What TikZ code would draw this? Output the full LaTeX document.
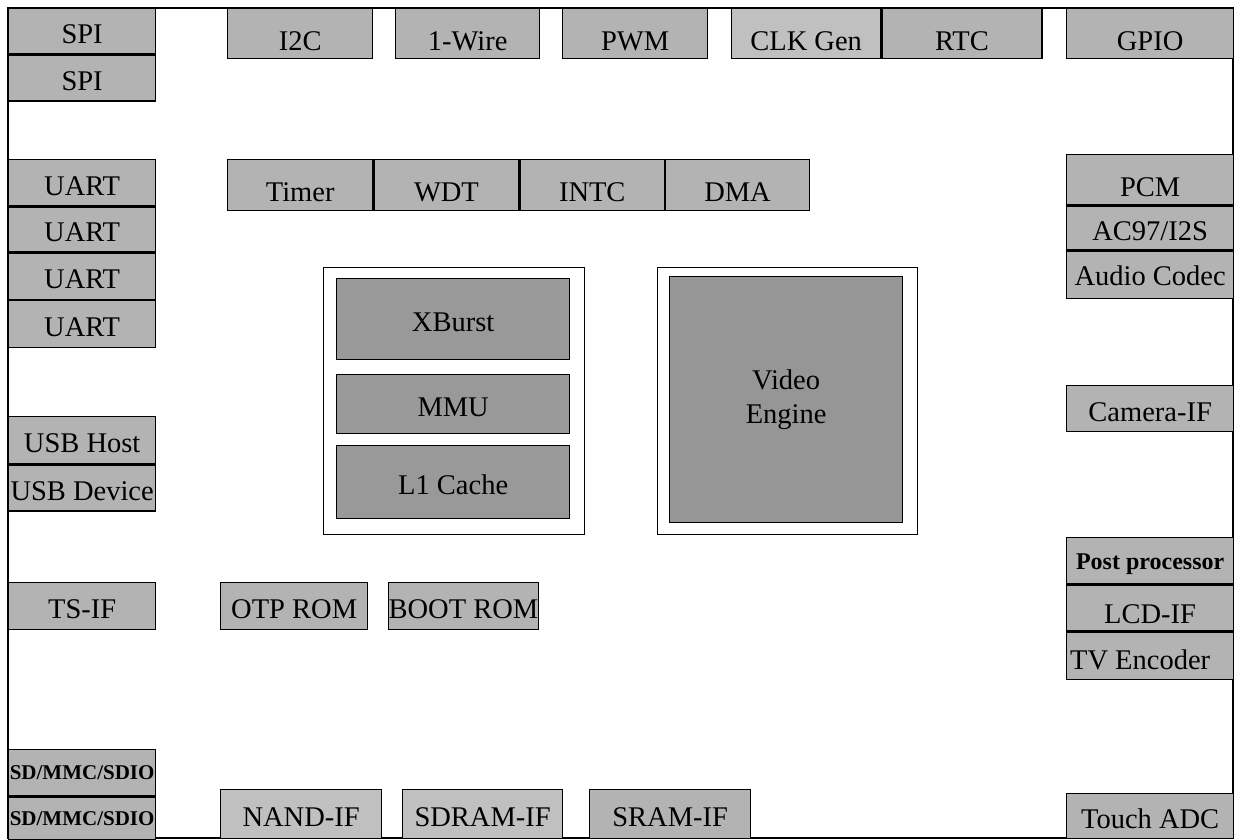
\documentclass[tikz,border=0pt]{standalone}
\usepackage{fontspec}
\setmainfont{Liberation Serif}
\definecolor{boxgray}{HTML}{B3B3B3}
\definecolor{lightgray}{HTML}{C0C0C0}
\definecolor{coregray}{HTML}{999999}
\definecolor{videogray}{HTML}{969696}
\tikzset{
box/.style={draw, line width=1.3pt, inner sep=0pt, anchor=north west},
blk/.style={box, fill=boxgray, text height=25pt, text depth=0pt},
lblk/.style={blk, fill=lightgray},
cblk/.style={blk, fill=coregray},
hold/.style={box, fill=white},
bsmall/.style={font=\fontsize{21}{24}\selectfont\bfseries, text height=14pt}
}
\begin{document}
\begin{tikzpicture}[x=1pt,y=-1pt,font=\fontsize{28.5}{34}\selectfont]
\useasboundingbox (0,0) rectangle (1237,840);
\draw[line width=2pt] (8,8) rectangle (1233,838);
\node[blk, minimum width=147pt, minimum height=45pt] (spiA) at (8,8) {SPI};
\node[blk, minimum width=147pt, minimum height=46pt] (spiB) at (spiA.south west) {SPI};
\node[blk, minimum width=147pt, minimum height=46pt] (uartA) at (8,159) {UART};
\node[blk, minimum width=147pt, minimum height=45pt] (uartB) at (uartA.south west) {UART};
\node[blk, minimum width=147pt, minimum height=46pt] (uartC) at (uartB.south west) {UART};
\node[blk, minimum width=147pt, minimum height=47pt] (uartD) at (uartC.south west) {UART};
\node[blk, minimum width=147pt, minimum height=47pt] (usbH) at (8,416) {USB Host};
\node[blk, minimum width=147pt, minimum height=46pt] (usbD) at (usbH.south west) {USB Device};
\node[blk, minimum width=147pt, minimum height=47pt] (tsif) at (8,582) {TS-IF};
\node[blk, bsmall, minimum width=147pt, minimum height=46pt] (sdA) at (8,749) {SD/MMC/SDIO};
\node[blk, bsmall, minimum width=147pt, minimum height=43pt] (sdB) at (sdA.south west) {SD/MMC/SDIO};
\node[blk, text height=33pt, minimum width=145pt, minimum height=50pt] (i2c) at (227,8) {I2C};
\node[blk, text height=33pt, minimum width=144pt, minimum height=50pt] (wire) at (395,8) {1-Wire};
\node[blk, text height=33pt, minimum width=145pt, minimum height=50pt] (pwm) at (562,8) {PWM};
\node[lblk, text height=33pt, minimum width=149pt, minimum height=50pt] (clk) at (731,8) {CLK Gen};
\node[blk, text height=33pt, minimum width=160pt, minimum height=50pt] (rtc) at (clk.north east) {RTC};
\node[blk, text height=33pt, minimum width=167pt, minimum height=50pt] (gpio) at (1066,8) {GPIO};
\node[blk, text height=32pt, minimum width=145pt, minimum height=51pt] (timer) at (227,159) {Timer};
\node[blk, text height=32pt, minimum width=145pt, minimum height=51pt] (wdt) at (timer.north east) {WDT};
\node[blk, text height=32pt, minimum width=144pt, minimum height=51pt] (intc) at (wdt.north east) {INTC};
\node[blk, text height=32pt, minimum width=144pt, minimum height=51pt] (dma) at (intc.north east) {DMA};
\node[hold, minimum width=261pt, minimum height=267pt] (cpu) at (323,267) {};
\node[cblk, minimum width=233pt, minimum height=81pt] (xburst) at (336,278) {XBurst};
\node[cblk, minimum width=233pt, minimum height=59pt] (mmu) at (336,374) {MMU};
\node[cblk, minimum width=233pt, minimum height=73pt] (cache) at (336,445) {L1 Cache};
\node[hold, minimum width=260pt, minimum height=267pt] (video) at (657,267) {};
\node[box, fill=videogray, minimum width=233pt, minimum height=246pt, align=center] (engine) at (669,276) {Video\\Engine};
\node[blk, minimum width=147pt, minimum height=47pt] (otp) at (220,582) {OTP ROM};
\node[blk, minimum width=147pt, minimum height=47pt] (boot) at (388,582) {BOOT ROM};
\node[lblk, minimum width=161pt, minimum height=49pt] (nand) at (220,789) {NAND-IF};
\node[lblk, minimum width=160pt, minimum height=49pt] (sdram) at (402,789) {SDRAM-IF};
\node[blk, minimum width=161pt, minimum height=49pt] (sram) at (589,789) {SRAM-IF};
\node[blk, text height=33pt, minimum width=167pt, minimum height=50pt] (pcm) at (1066,154) {PCM};
\node[blk, minimum width=167pt, minimum height=44pt] (ac97) at (pcm.south west) {AC97/I2S};
\node[blk, text height=22pt, minimum width=167pt, minimum height=47pt] (codec) at (ac97.south west) {Audio Codec};
\node[blk, minimum width=167pt, minimum height=46pt] (cam) at (1066,385) {Camera-IF};
\node[blk, font=\fontsize{24}{28}\selectfont\bfseries, text height=17pt, minimum width=167pt, minimum height=46pt] (post) at (1066,537) {Post processor};
\node[blk, text height=31pt, minimum width=167pt, minimum height=46pt] (lcd) at (post.south west) {LCD-IF};
\node[blk, text height=28pt, minimum width=167pt, minimum height=47pt] (tv) at (lcd.south west) {TV Encoder\hspace*{20pt}};
\node[blk, minimum width=167pt, minimum height=45pt] (touch) at (1066,793) {Touch ADC};
\end{tikzpicture}
\end{document}
